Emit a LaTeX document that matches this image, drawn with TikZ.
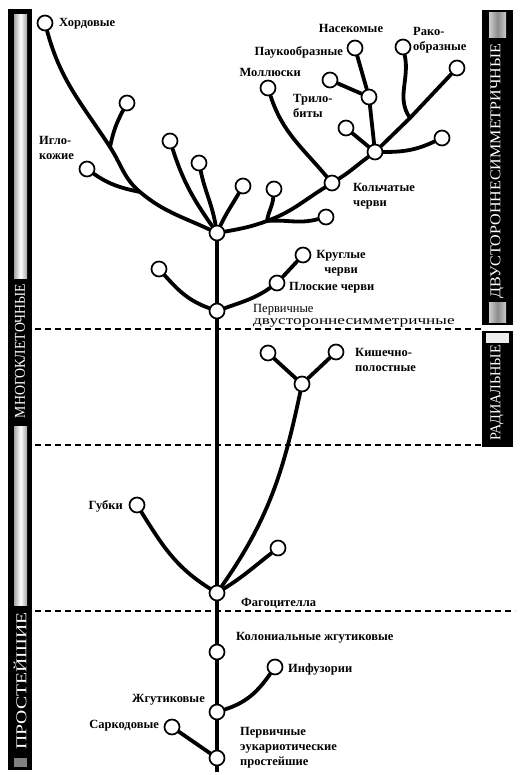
\documentclass[tikz,border=0pt]{standalone}
\usepackage{fontspec}
\setmainfont{Liberation Serif}
\usepackage{graphicx}
\usetikzlibrary{positioning}
\pgfdeclarelayer{background}
\pgfsetlayers{background,main}
\begin{document}
\begin{tikzpicture}[x=1pt,y=1pt,
  taxon/.style={circle,draw,fill=white,line width=1.7pt,minimum size=15pt,inner sep=0pt},
  branch/.style={line width=3.8pt,line cap=round},
  trunk/.style={line width=4.6pt},
  lbl/.style={font=\fontsize{12.5}{15}\selectfont\bfseries,inner sep=1pt},
  thin lbl/.style={font=\fontsize{12.5}{12.5}\selectfont,inner sep=0pt},
  bartext/.style={text=white,rotate=90,font=\fontsize{15}{15}\selectfont,inner sep=0pt},
  zone/.style={dashed,line width=1.1pt,dash pattern=on 6pt off 4pt}]
\useasboundingbox (0,0) rectangle (521,-775);
\fill (8,-9) rectangle (32,-770);
\shade[left color=gray!70,right color=gray!70,middle color=white] (14,-15) rectangle (27,-278);
\shade[left color=gray!70,right color=gray!70,middle color=white] (14,-426) rectangle (27,-605);
\fill[gray] (14,-758) rectangle (27,-767);
\fill (482,-10) rectangle (513,-325);
\fill (482,-331) rectangle (513,-447);
\shade[left color=gray!40,right color=gray!40,middle color=gray!90] (489,-13) rectangle (506,-38);
\shade[left color=gray!40,right color=gray!40,middle color=gray!90] (489,-302) rectangle (506,-322);
\fill[gray!15] (486,-333) rectangle (509,-343);
\node[bartext] (multi) at (20,-351) {\scalebox{0.92}[1]{МНОГОКЛЕТОЧНЫЕ}};
\node[bartext] (proto) at (20,-681) {\scalebox{1.31}[1]{ПРОСТЕЙШИЕ}};
\node[bartext] (bilat) at (497,-171) {\scalebox{1.07}[1]{ДВУСТОРОННЕСИММЕТРИЧНЫЕ}};
\node[bartext] (radial) at (497,-393) {\scalebox{0.95}[1]{РАДИАЛЬНЫЕ}};
\draw[zone] (35,-329) -- (481,-329);
\draw[zone] (35,-445) -- (481,-445);
\draw[zone] (35,-611) -- (515,-611);

\node[taxon] (chord) at (45,-23) {};
\node[taxon] (top) at (217,-233) {};
\node[taxon] (n1) at (127,-103) {};
\node[taxon] (echin) at (87,-169) {};
\node[taxon] (n2) at (170,-141) {};
\node[taxon] (n3) at (199,-163) {};
\node[taxon] (n4) at (243,-186) {};
\node[taxon] (n5) at (274,-189) {};
\node[taxon] (n6) at (326,-217) {};
\node[taxon] (annel) at (332,-183) {};
\node[taxon] (moll) at (268,-88) {};
\node[taxon] (arth) at (375,-152) {};
\node[taxon] (n7) at (442,-138) {};
\node[taxon] (n8) at (457,-68) {};
\node[taxon] (crust) at (403,-47) {};
\node[taxon] (n9) at (346,-128) {};
\node[taxon] (tj) at (369,-97) {};
\node[taxon] (insect) at (355,-48) {};
\node[taxon] (trilo) at (330,-80) {};
\node[taxon] (bil) at (217,-311) {};
\node[taxon] (n10) at (159,-269) {};
\node[taxon] (flat) at (277,-283) {};
\node[taxon] (round) at (303,-255) {};
\node[taxon] (cj) at (302,-384) {};
\node[taxon] (cl) at (268,-353) {};
\node[taxon] (cr) at (336,-352) {};
\node[taxon] (phago) at (217,-593) {};
\node[taxon] (sponge) at (137,-505) {};
\node[taxon] (n11) at (278,-548) {};
\node[taxon] (colon) at (217,-652) {};
\node[taxon] (ciliate) at (275,-667) {};
\node[taxon] (flag) at (217,-712) {};
\node[taxon] (euk) at (217,-758) {};
\node[taxon] (sarc) at (172,-727) {};
\coordinate (b1) at (140,-192);
\coordinate (b2) at (110,-147);
\coordinate (p) at (267,-221);
\coordinate (rj) at (410,-118);
\coordinate (base) at (217,-772);

\begin{pgfonlayer}{background}
\draw[trunk] (base) -- (euk) -- (flag) -- (colon) -- (phago) -- (bil) -- (top);
\draw[branch] (top) to[out=155,in=-40] (b1) to[out=140,in=-57] (b2) to[out=123,in=-75] (chord);
\draw[branch] (b2) to[out=78,in=-118] (n1);
\draw[branch] (b1) to[out=168,in=-35] (echin);
\draw[branch] (top) to[out=125,in=-72] (n2);
\draw[branch] (top) to[out=100,in=-78] (n3);
\draw[branch] (top) to[out=65,in=-120] (n4);
\draw[branch] (top) to[out=10,in=-160] (p) to[out=20,in=-148] (annel) to[out=32,in=-144] (arth);
\draw[branch] (p) to[out=82,in=-95] (n5);
\draw[branch] (p) to[out=5,in=195] (n6);
\draw[branch] (annel) to[out=130,in=-72] (moll);
\draw[branch] (arth) to[out=0,in=205] (n7);
\draw[branch] (arth) -- (rj) -- (n8);
\draw[branch] (rj) to[out=125,in=-78] (crust);
\draw[branch] (arth) -- (n9);
\draw[branch] (arth) -- (tj);
\draw[branch] (tj) -- (insect);
\draw[branch] (tj) -- (trilo);
\draw[branch] (bil) to[out=160,in=-48] (n10);
\draw[branch] (bil) to[out=20,in=-145] (flat) -- (round);
\draw[branch] (phago) to[out=55,in=-102] (cj);
\draw[branch] (cj) -- (cl);
\draw[branch] (cj) -- (cr);
\draw[branch] (phago) to[out=148,in=-58] (sponge);
\draw[branch] (phago) to[out=32,in=-142] (n11);
\draw[branch] (flag) to[out=18,in=-125] (ciliate);
\draw[branch] (euk) -- (sarc);
\end{pgfonlayer}

\node[lbl,anchor=west] (l-chord) at (58,-24) {Хордовые};
\node[lbl,anchor=west,align=left] (l-echin) at (38,-148) {Игло-\\кожие};
\node[lbl,anchor=east] (l-moll) at (302,-72) {Моллюски};
\node[lbl,anchor=east] (l-arach) at (344,-52) {Паукообразные};
\node[lbl] (l-insect) at (351,-28) {Насекомые};
\node[lbl,anchor=west,align=left] (l-crust) at (412,-40) {Рако-\\образные};
\node[lbl,anchor=west,align=left] (l-trilo) at (292,-106) {Трило-\\биты};
\node[lbl,anchor=west,align=left] (l-annel) at (352,-196) {Кольчатые\\черви};
\node[lbl,align=center] (l-round) at (341,-263) {Круглые\\черви};
\node[lbl,anchor=west] (l-flat) at (288,-288) {Плоские черви};
\node[thin lbl,anchor=west,align=left] (l-bil) at (253,-316) {Первичные\\\scalebox{1.38}[1]{двустороннесимметричные}};
\node[lbl,anchor=west,align=left] (l-cnid) at (354,-360) {Кишечно-\\полостные};
\node[lbl,anchor=east] (l-sponge) at (124,-506) {Губки};
\node[lbl,anchor=west] (l-phago) at (240,-603) {Фагоцителла};
\node[lbl,anchor=west] (l-colon) at (235,-638) {Колониальные жгутиковые};
\node[lbl,anchor=west] (l-ciliate) at (287,-670) {Инфузории};
\node[lbl,anchor=east] (l-flag) at (206,-700) {Жгутиковые};
\node[lbl,anchor=east] (l-sarc) at (160,-726) {Саркодовые};
\node[lbl,anchor=west,align=left] (l-euk) at (239,-748) {Первичные\\эукариотические\\простейшие};
\end{tikzpicture}
\end{document}
